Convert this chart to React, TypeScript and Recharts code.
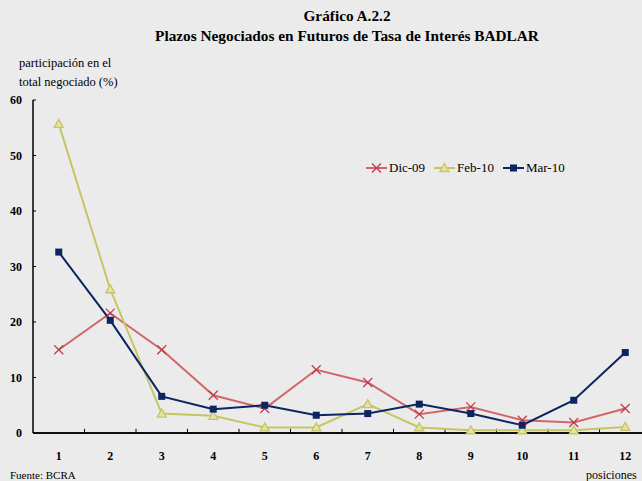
import React from 'react';
import { LineChart, Line, XAxis, YAxis, Legend, ReferenceLine } from 'recharts';

const positions = [1, 2, 3, 4, 5, 6, 7, 8, 9, 10, 11, 12];
const dic09 = [15.0, 21.6, 15.0, 6.8, 4.4, 11.4, 9.1, 3.4, 4.7, 2.3, 1.9, 4.4];
const feb10 = [55.7, 25.9, 3.5, 3.1, 1.0, 1.0, 5.2, 1.0, 0.5, 0.5, 0.5, 1.1];
const mar10 = [32.6, 20.3, 6.6, 4.3, 5.0, 3.2, 3.5, 5.2, 3.5, 1.4, 5.9, 14.5];
const yTicks = [0, 10, 20, 30, 40, 50, 60];
const boundaryTicks = [1.5, 2.5, 3.5, 4.5, 5.5, 6.5, 7.5, 8.5, 9.5, 10.5, 11.5];
const tickMarkHeight = 0.75;
const seriesNames = ['Dic-09', 'Feb-10', 'Mar-10'];

const data = positions.map((p, i) => ({
  pos: p,
  'Dic-09': dic09[i],
  'Feb-10': feb10[i],
  'Mar-10': mar10[i],
}));

const RED = '#D0676B';
const RED_MK = '#C33A45';
const YEL = '#C6C566';
const YEL_FILL = '#E4E3A6';
const NAVY = '#0B2462';
const BG = '#EBEBEB';
const SERIF = '"Liberation Serif", "DejaVu Serif", serif';

const marker = (name: string, cx: number, cy: number) => {
  if (name === 'Dic-09') {
    return (
      <g>
        <line x1={cx - 4.5} y1={cy - 4.5} x2={cx + 4.5} y2={cy + 4.5} stroke={RED_MK} strokeWidth={1.3} />
        <line x1={cx - 4.5} y1={cy + 4.5} x2={cx + 4.5} y2={cy - 4.5} stroke={RED_MK} strokeWidth={1.3} />
      </g>
    );
  }
  if (name === 'Feb-10') {
    return (
      <polygon
        points={`${cx},${cy - 4.5} ${cx - 4.5},${cy + 3.5} ${cx + 4.5},${cy + 3.5}`}
        fill={YEL_FILL}
        stroke={YEL}
        strokeWidth={1.3}
      />
    );
  }
  return <rect x={cx - 3.5} y={cy - 3.5} width={7} height={7} fill={NAVY} />;
};

const makeDot = (name: string) => (props: any) => {
  const { cx, cy, index } = props;
  if (cx == null || cy == null) return <g key={`${name}-${index}`} />;
  return <g key={`${name}-${index}`}>{marker(name, cx, cy)}</g>;
};

const colorOf: Record<string, string> = { 'Dic-09': RED, 'Feb-10': YEL, 'Mar-10': NAVY };

const LegendContent = () => (
  <div style={{ display: 'flex', alignItems: 'center', fontFamily: SERIF, fontSize: 13, color: '#000' }}>
    {seriesNames.map((n) => (
      <div key={n} style={{ display: 'flex', alignItems: 'center', marginRight: 9 }}>
        <svg width={21} height={12} style={{ marginRight: 2 }}>
          <line x1={0} y1={6} x2={21} y2={6} stroke={colorOf[n]} strokeWidth={2} />
          {marker(n, 10.5, 6)}
        </svg>
        <span>{n}</span>
      </div>
    ))}
  </div>
);

export default function App() {
  return (
    <div
      style={{
        position: 'absolute',
        left: 0,
        top: 0,
        width: 642,
        height: 481,
        overflow: 'hidden',
        background: BG,
        fontFamily: SERIF,
      }}
    >
      <div style={{ position: 'absolute', left: 0, width: 694, top: 6, textAlign: 'center', fontWeight: 'bold', fontSize: 15.3, lineHeight: '20px', color: '#000' }}>
        Gráfico A.2.2
        <br />
        Plazos Negociados en Futuros de Tasa de Interés BADLAR
      </div>
      <div style={{ position: 'absolute', left: 19, top: 54, fontSize: 12.5, lineHeight: '19px', color: '#000' }}>
        participación en el
        <br />
        total negociado (%)
      </div>
      <div style={{ position: 'absolute', left: 10, top: 469, fontSize: 11, color: '#000' }}>Fuente: BCRA</div>
      <div style={{ position: 'absolute', left: 586, top: 468, fontSize: 12, color: '#000' }}>posiciones</div>
      <div style={{ position: 'absolute', left: 0, top: 0 }}>
        <LineChart width={651} height={481} data={data} margin={{ top: 100, right: 0, bottom: 17, left: 0 }}>
          <XAxis
            type="number"
            dataKey="pos"
            domain={[0.5, 12.5]}
            ticks={positions}
            interval={0}
            tickLine={false}
            tickSize={0}
            tickMargin={18}
            axisLine={{ stroke: '#000', strokeWidth: 1.5 }}
            tick={{ fill: '#000', fontSize: 12, fontWeight: 'bold', fontFamily: SERIF }}
            height={31}
            allowDataOverflow
          />
          <YAxis
            domain={[0, 60]}
            ticks={yTicks}
            interval={0}
            width={33}
            tickSize={-3}
            tickMargin={14}
            axisLine={{ stroke: '#000', strokeWidth: 1.5 }}
            tickLine={{ stroke: '#000', strokeWidth: 1 }}
            tick={{ fill: '#000', fontSize: 12, fontWeight: 'bold', fontFamily: SERIF }}
          />
          <ReferenceLine y={0} stroke="#000" strokeWidth={1.5} />
          {boundaryTicks.map((b) => (
            <ReferenceLine
              key={b}
              segment={[{ x: b, y: 0 }, { x: b, y: tickMarkHeight }]}
              stroke="#000"
              strokeWidth={1}
              ifOverflow="visible"
            />
          ))}
          <Legend
            layout="horizontal"
            verticalAlign="middle"
            align="center"
            content={<LegendContent />}
            wrapperStyle={{ position: 'absolute', left: 366, top: 160, width: 260 }}
          />
          <Line dataKey="Dic-09" stroke={RED} strokeWidth={2} dot={makeDot('Dic-09')} activeDot={false} isAnimationActive={false} />
          <Line dataKey="Feb-10" stroke={YEL} strokeWidth={2} dot={makeDot('Feb-10')} activeDot={false} isAnimationActive={false} />
          <Line dataKey="Mar-10" stroke={NAVY} strokeWidth={2} dot={makeDot('Mar-10')} activeDot={false} isAnimationActive={false} />
        </LineChart>
      </div>
    </div>
  );
}
